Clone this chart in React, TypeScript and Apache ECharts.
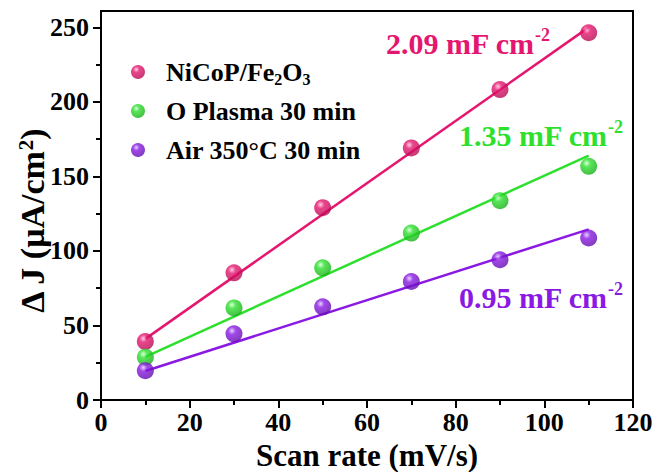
import React, { useEffect, useRef } from "react";
import * as echarts from "echarts";

const scanRate = [10, 30, 50, 70, 90, 110];
const nicopFe2o3 = [39.2, 85.3, 129.0, 169.1, 208.3, 246.4];
const oPlasma = [28.7, 61.8, 88.7, 112.0, 133.7, 156.8];
const air350 = [19.7, 44.4, 62.5, 79.5, 94.1, 108.7];
const fitX = [10, 110];
const fitNicop = [41, 250];
const fitPlasma = [29, 164];
const fitAir = [19.5, 114.5];
const seriesNames = ["NiCoP/Fe2O3", "O Plasma 30 min", "Air 350°C 30 min"];
const slopeLabels = ["2.09 mF cm", "1.35 mF cm", "0.95 mF cm"];
const yMajorTicks = [0, 50, 100, 150, 200, 250];
const yMinorTicks = [25, 75, 125, 175, 225];

const FONT = "Liberation Serif, Times New Roman, serif";
const PINK = "#E5166F";
const GREEN = "#2EE02E";
const PURPLE = "#8A1AE3";

function ball(color: string, light: string, dark: string) {
  return {
    type: "radial",
    x: 0.38,
    y: 0.32,
    r: 0.75,
    colorStops: [
      { offset: 0, color: light },
      { offset: 0.3, color: color },
      { offset: 1, color: dark },
    ],
  };
}

export default function App() {
  const ref = useRef<HTMLDivElement>(null);
  useEffect(() => {
    if (!ref.current) return;
    const chart = echarts.init(ref.current, null, { renderer: "svg" });
    const pairs = (ys: number[]) => scanRate.map((x, i) => [x, ys[i]]);
    const fit = (ys: number[]) => fitX.map((x, i) => [x, ys[i]]);
    const scatter = (name: string, ys: number[], style: any) => ({
      name,
      type: "scatter",
      data: pairs(ys),
      symbol: "circle",
      symbolSize: 17,
      itemStyle: { color: style },
      z: 3,
    });
    const line = (name: string, ys: number[], color: string) => ({
      name,
      type: "line",
      data: fit(ys),
      showSymbol: false,
      symbol: "none",
      lineStyle: { color, width: 2.5 },
      z: 2,
    });
    const axisText = { fontFamily: FONT, fontWeight: "bold", fontSize: 26, color: "#000" };
    chart.setOption({
      animation: false,
      backgroundColor: "#fff",
      grid: {
        left: 101,
        right: 22,
        top: 11,
        bottom: 72,
        show: true,
        borderColor: "#000",
        borderWidth: 2,
        containLabel: false,
        outerBoundsMode: "none",
      },
      legend: {
        data: seriesNames,
        orient: "vertical",
        left: 131,
        top: 57,
        padding: 0,
        itemWidth: 46,
        itemHeight: 14,
        itemGap: 9,
        formatter: (n: string) => (n === "NiCoP/Fe2O3" ? "NiCoP/Fe{sub|2}O{sub|3}" : n),
        textStyle: {
          fontFamily: FONT,
          fontWeight: "bold",
          fontSize: 26,
          lineHeight: 30,
          color: "#000",
          rich: {
            sub: { fontFamily: FONT, fontWeight: "bold", fontSize: 16, lineHeight: 30, verticalAlign: "bottom", color: "#000" },
          },
        },
      },
      xAxis: {
        type: "value",
        min: 0,
        max: 120,
        interval: 20,
        name: "Scan rate (mV/s)",
        nameLocation: "middle",
        nameGap: 40,
        nameTextStyle: { fontFamily: FONT, fontWeight: "bold", fontSize: 31, color: "#000" },
        axisLine: { show: true, lineStyle: { color: "#000", width: 2 } },
        axisTick: { show: true, inside: false, length: 8, lineStyle: { color: "#000", width: 2 } },
        minorTick: { show: true, splitNumber: 2, length: 5, lineStyle: { color: "#000", width: 2 } },
        splitLine: { show: false },
        axisLabel: { ...axisText, margin: 9 },
      },
      yAxis: [
        {
          type: "value",
          min: 0,
          max: 261,
          position: "left",
          axisLine: { show: true, onZero: false, lineStyle: { color: "#000", width: 2 } },
          axisTick: { show: true, length: 8, customValues: yMajorTicks, lineStyle: { color: "#000", width: 2 } },
          splitLine: { show: false },
          axisLabel: { ...axisText, margin: 12, customValues: yMajorTicks },
        },
        {
          type: "value",
          min: 0,
          max: 261,
          position: "left",
          axisLine: { show: false },
          axisTick: { show: true, length: 5, customValues: yMinorTicks, lineStyle: { color: "#000", width: 2 } },
          splitLine: { show: false },
          axisLabel: { show: false },
        },
      ],
      graphic: [
        {
          type: "text",
          x: 32,
          y: 221,
          rotation: Math.PI / 2,
          style: {
            text: "Δ J (μA/cm{sup|2})",
            fontFamily: FONT,
            fontWeight: "bold",
            fontSize: 34,
            fill: "#000",
            align: "center",
            verticalAlign: "middle",
            rich: { sup: { fontFamily: FONT, fontWeight: "bold", fontSize: 21, verticalAlign: "top", fill: "#000" } },
          },
        },
        ...[
          { t: slopeLabels[0], c: PINK, x: 386, y: 43 },
          { t: slopeLabels[1], c: GREEN, x: 459, y: 135 },
          { t: slopeLabels[2], c: PURPLE, x: 459, y: 297 },
        ].map((a) => ({
          type: "text",
          x: a.x,
          y: a.y,
          z: 10,
          style: {
            text: a.t + "{sup|-2}",
            fontFamily: FONT,
            fontWeight: "bold",
            fontSize: 30,
            lineHeight: 34,
            fill: a.c,
            align: "left",
            verticalAlign: "middle",
            rich: { sup: { fontFamily: FONT, fontWeight: "bold", fontSize: 18, lineHeight: 34, verticalAlign: "top", fill: a.c } },
          },
        })),
      ],
      series: [
        line("fit1", fitNicop, PINK),
        line("fit2", fitPlasma, GREEN),
        line("fit3", fitAir, PURPLE),
        scatter(seriesNames[0], nicopFe2o3, ball(PINK, "#ffc2dc", "#b0084f")),
        scatter(seriesNames[1], oPlasma, ball(GREEN, "#d4ffd4", "#14a814")),
        scatter(seriesNames[2], air350, ball(PURPLE, "#e0c8ff", "#5e0aa8")),
      ],
    });
    return () => chart.dispose();
  }, []);
  return <div ref={ref} style={{ width: 655, height: 472, position: "fixed", left: 0, top: 0 }} />;
}
